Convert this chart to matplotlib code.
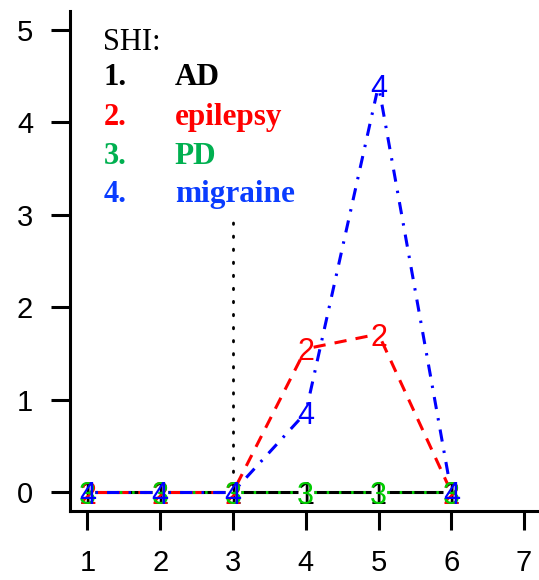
import numpy as np
import matplotlib
matplotlib.use("Agg")
import matplotlib.pyplot as plt

# data
x = [1, 2, 3, 4, 5, 6]
ad = [0, 0, 0, 0, 0, 0]
epilepsy = [0, 0, 0, 1.55, 1.71, 0]
pd_vals = [0, 0, 0, 0, 0, 0]
migraine = [0, 0, 0, 0.86, 4.40, 0]
series = [ad, epilepsy, pd_vals, migraine]
symbols = ["1", "2", "3", "4"]
line_colors = ["black", "#FF0000", "#00CD00", "#0000FF"]
line_styles = ["-", (0, (4, 3)), (0, (0.8, 3.2)), (0, (0.8, 3, 4, 3))]

legend_title = "SHI:"
legend_names = ["AD", "epilepsy", "PD", "migraine"]
legend_colors = ["black", "#FF0000", "#00B050", "#0A3CFF"]

cut_x = 3
cut_top = 3

fig = plt.figure(figsize=(5.39, 5.8), dpi=100)
ax = fig.add_axes([70 / 539, 69.4 / 580, 471.5 / 539, 499.2 / 580])
ax.set_xlim(0.76, 7.24)
ax.set_ylim(-0.2, 5.2)

# type="b": line segments with a small gap around each point
gap = 8  # pixels
for vals, col, ls in zip(series, line_colors, line_styles):
    pts = ax.transData.transform(np.column_stack([x, vals]))
    for p0, p1 in zip(pts[:-1], pts[1:]):
        d = p1 - p0
        n = np.hypot(*d)
        if n <= 2 * gap:
            continue
        a = p0 + d / n * gap
        b = p1 - d / n * gap
        seg = ax.transData.inverted().transform(np.array([a, b]))
        ax.plot(seg[:, 0], seg[:, 1], color=col, linestyle=ls, lw=2.2,
                dash_capstyle="butt", solid_capstyle="butt")

for vals, col, sym in zip(series, line_colors, symbols):
    for xi, yi in zip(x, vals):
        ax.text(xi, yi, sym, color=col, fontsize=22, ha="center",
                va="center_baseline", family="Liberation Sans")

ax.plot([cut_x, cut_x], [0.08, cut_top], color="black", lw=2,
        linestyle=(0, (0.5, 4.2)), dash_capstyle="round")

# legend text block
lx_num = 1.22
lx_name = 2.2
ax.text(lx_num, 4.785, legend_title, fontsize=22, family="Liberation Serif",
        va="baseline")
rows_y = [4.40, 3.97, 3.55, 3.14]
for i, (name, col, ry) in enumerate(zip(legend_names, legend_colors, rows_y)):
    ax.text(lx_num, ry, f"{i + 1}.", fontsize=22, family="Liberation Serif",
            fontweight="bold", color=col, va="baseline")
    ax.text(lx_name, ry, name, fontsize=22.5, family="Liberation Serif",
            fontweight="bold", color=col, va="baseline")

for s in ["top", "right"]:
    ax.spines[s].set_visible(False)
for s in ["left", "bottom"]:
    ax.spines[s].set_linewidth(2.2)
ax.set_xticks(range(1, 8))
ax.set_yticks(range(0, 6))
ax.tick_params(axis="both", length=13.5, width=2.2, labelsize=21)
ax.tick_params(axis="x", pad=14)
ax.tick_params(axis="y", pad=13)
for lab in ax.get_xticklabels() + ax.get_yticklabels():
    lab.set_family("Liberation Sans")

fig.savefig("out.png", dpi=100)
